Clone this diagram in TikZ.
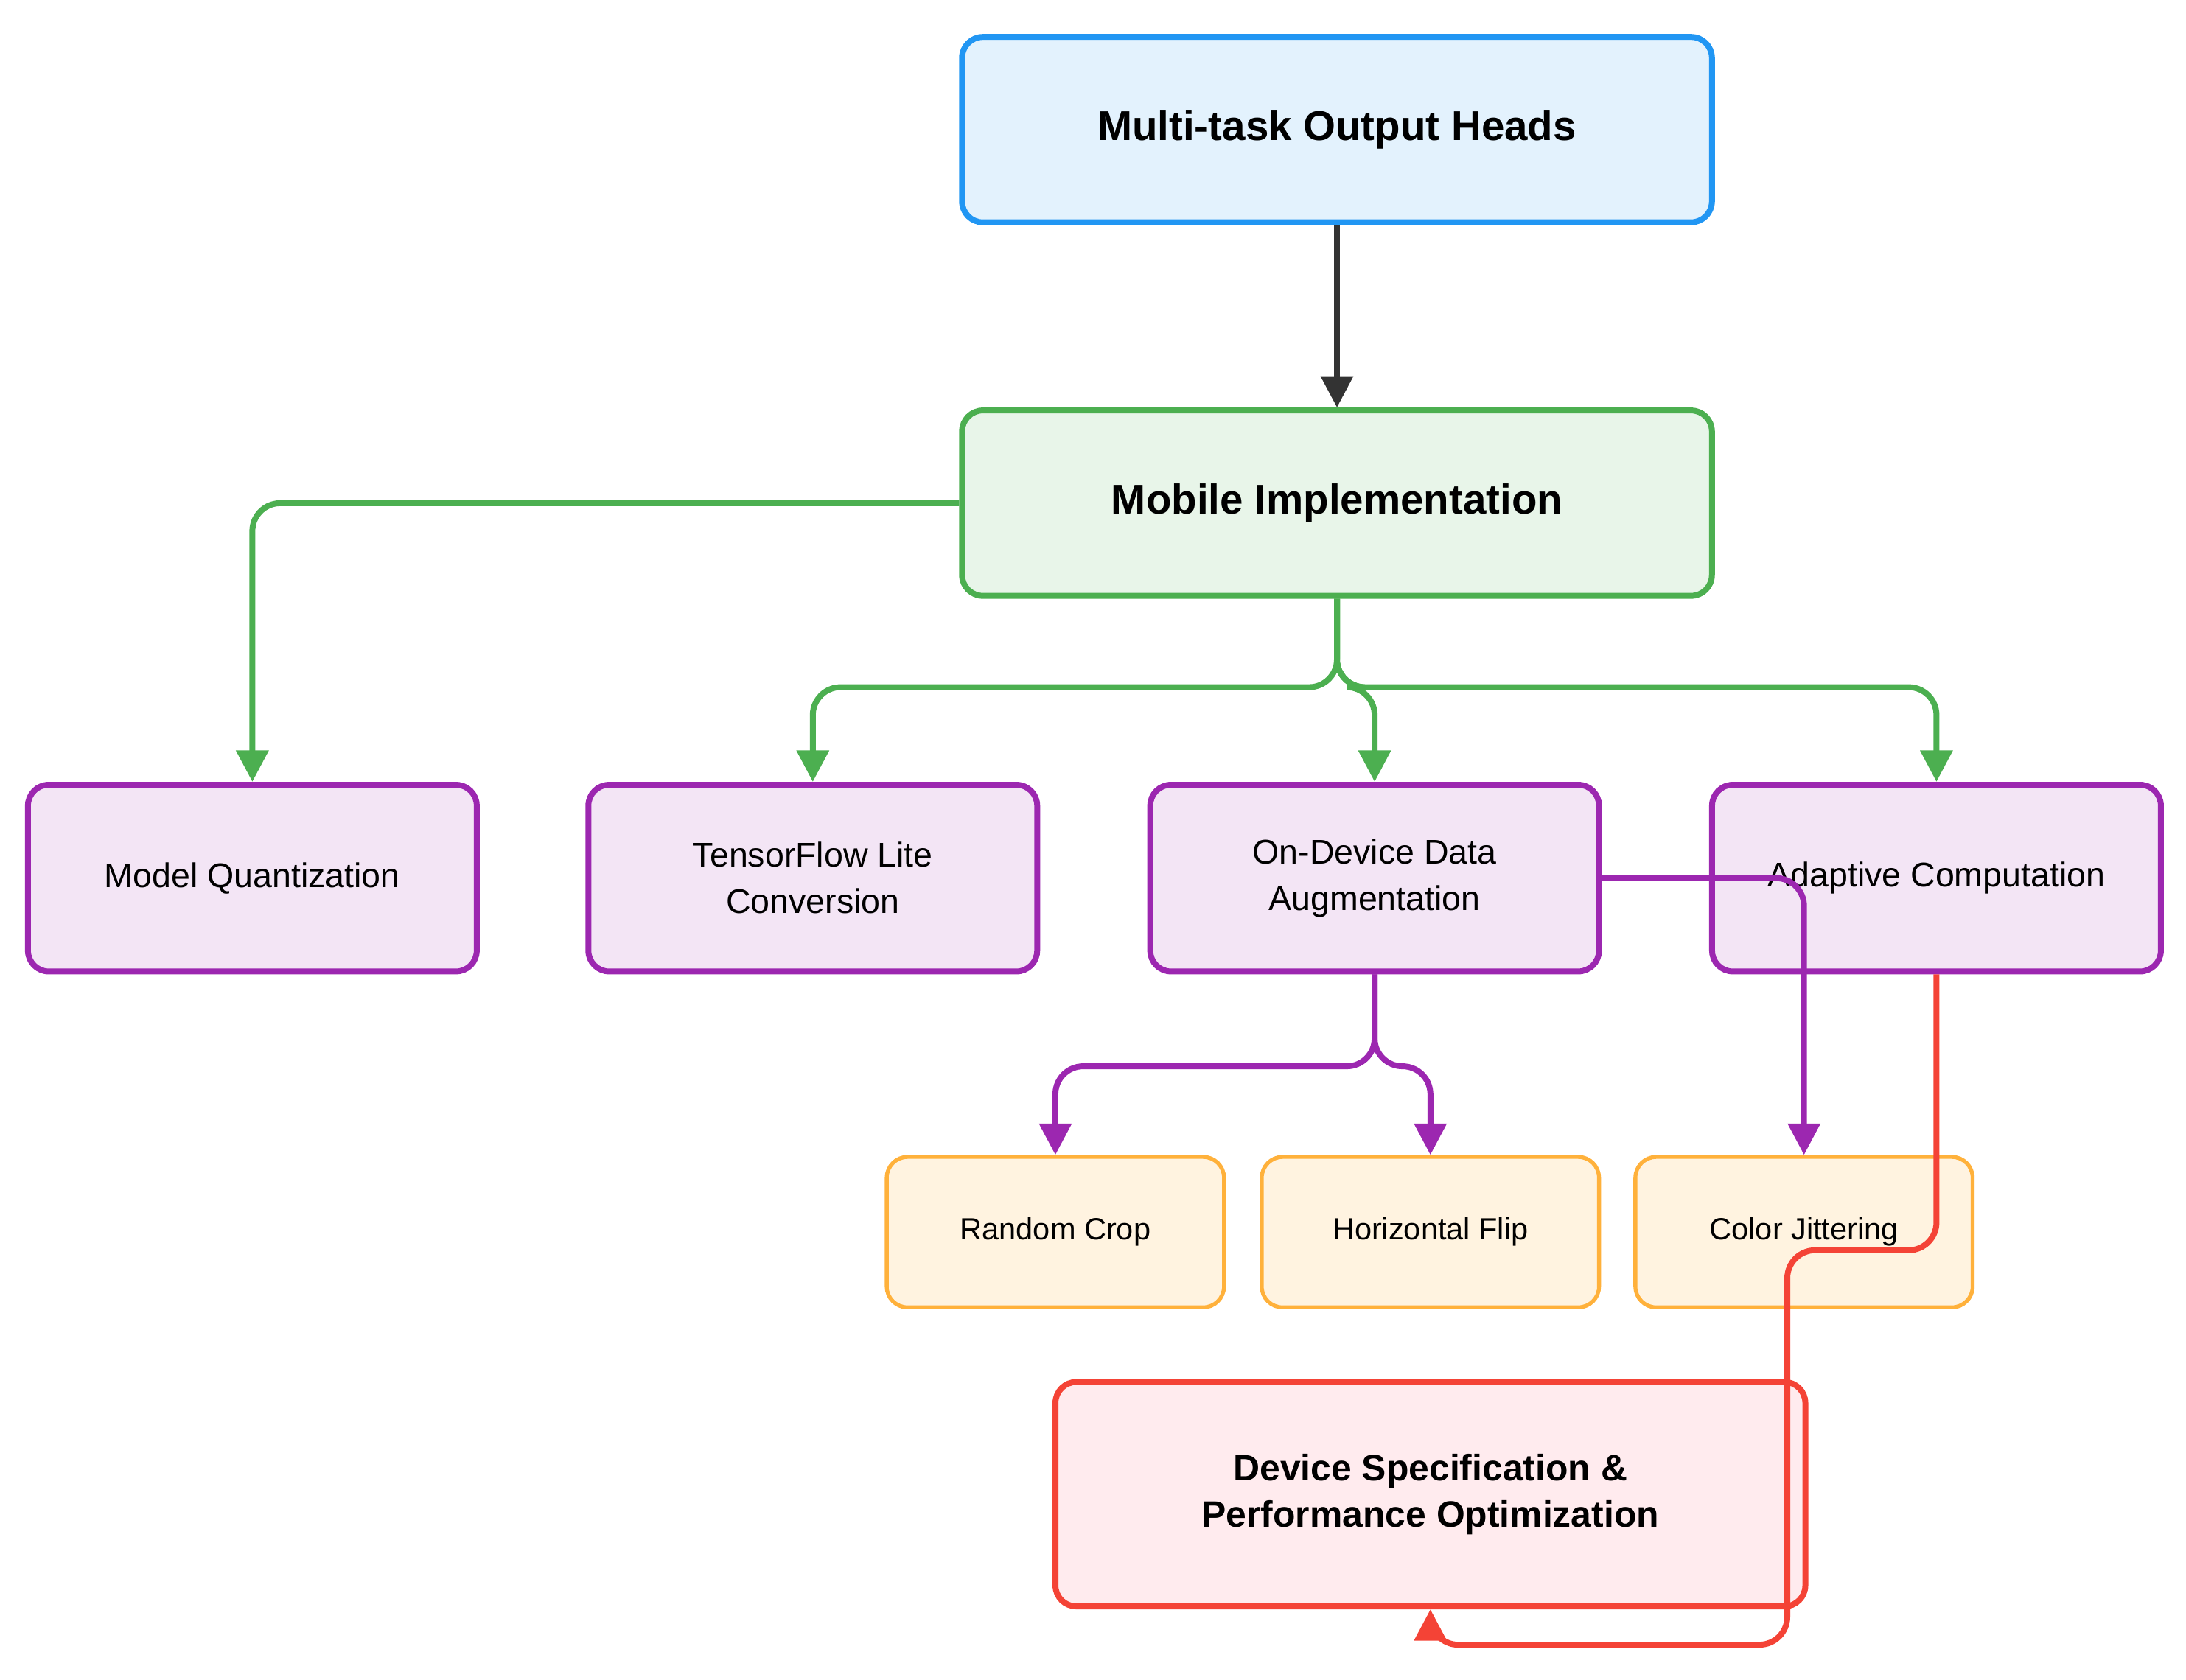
\documentclass[tikz,border=0pt]{standalone}
\usepackage{fontspec}
\setmainfont{Liberation Sans}
\usetikzlibrary{arrows.meta}
\definecolor{bF}{HTML}{E3F2FD}\definecolor{bD}{HTML}{2196F3}
\definecolor{gF}{HTML}{E8F5E9}\definecolor{gD}{HTML}{4CAF50}
\definecolor{pF}{HTML}{F3E5F5}\definecolor{pD}{HTML}{9C27B0}
\definecolor{oF}{HTML}{FFF3E0}\definecolor{oD}{HTML}{FFB13B}
\definecolor{rF}{HTML}{FFEBEE}\definecolor{rD}{HTML}{F44336}
\begin{document}
\begin{tikzpicture}[x=0.02cm,y=-0.02cm,
 box/.style={draw,rounded corners=0.3cm,line width=2.4pt,align=center,inner sep=0},
 big/.style={box,minimum width=10.76cm,minimum height=2.66cm,font=\bfseries\fontsize{17}{21}\selectfont},
 mid/.style={box,draw=pD,fill=pF,minimum width=6.44cm,minimum height=2.68cm,font=\fontsize{14}{19}\selectfont},
 sm/.style={box,draw=oD,fill=oF,line width=1.6pt,minimum width=4.84cm,minimum height=2.16cm,font=\fontsize{12.5}{15}\selectfont},
 arr/.style={line width=2.4pt,rounded corners=0.4cm,-{Triangle[length=0.45cm,width=0.45cm]}}]
\useasboundingbox (0,0) rectangle (1568,1205);
\node[big,draw=bD,fill=bF] (mt) at (959,93) {Multi-task Output Heads};
\node[big,draw=gD,fill=gF] (mi) at (959,361) {Mobile Implementation};
\node[mid] (mq) at (181,630) {Model Quantization};
\node[mid] (tf) at (583,630) {TensorFlow Lite\\Conversion};
\node[mid] (od) at (986,630) {On-Device Data\\Augmentation};
\node[mid] (ac) at (1389,630) {Adaptive Computation};
\node[sm] (rc) at (757,884) {Random Crop};
\node[sm] (hf) at (1026,884) {Horizontal Flip};
\node[sm] (cj) at (1294,884) {Color Jittering};
\node[box,draw=rD,fill=rF,minimum width=10.76cm,minimum height=3.22cm,font=\bfseries\fontsize{15}{19}\selectfont] (ds) at (1026,1072) {Device Specification \&\\Performance Optimization};
\draw[arr,draw={rgb,255:red,51;green,51;blue,51}] (mt) -- (mi);
\draw[arr,draw=gD] (mi.west) -| (mq.north);
\draw[arr,draw=gD] (mi.south) -- (959,493) -| (tf.north);
\draw[arr,draw=gD] (mi.south) -- (959,493) -| (od.north);
\draw[arr,draw=gD] (mi.south) -- (959,493) -| (ac.north);
\draw[arr,draw=pD] (od.east) -| (cj.north);
\draw[arr,draw=pD] (od.south) -- (986,765) -| (rc.north);
\draw[arr,draw=pD] (od.south) -- (986,765) -| (hf.north);
\coordinate (r1) at (1282,897);
\coordinate (r2) at (1282,1180);
\draw[arr,draw=rD] (ac.south) |- (r1) -- (r2) -| (ds.south);
\end{tikzpicture}
\end{document}
